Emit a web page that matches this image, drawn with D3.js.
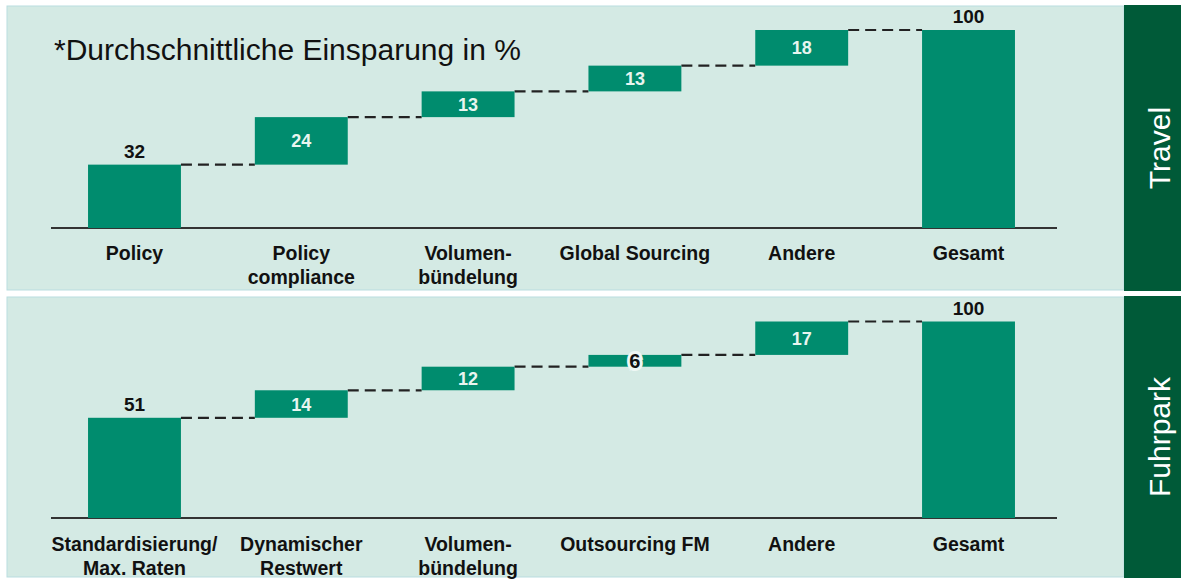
<!DOCTYPE html>
<html>
<head>
<meta charset="utf-8">
<script src="https://cdn.jsdelivr.net/npm/d3@7"></script>
<style>
  body { margin: 0; background: #fff; }
  text { font-family: "Liberation Sans", Arial, sans-serif; }
</style>
</head>
<body>
<div id="chart"></div>
<script>
// data
var titleText = "*Durchschnittliche Einsparung in %";

var travelLabels = [["Policy"], ["Policy", "compliance"], ["Volumen-", "bündelung"],
  ["Global Sourcing"], ["Andere"], ["Gesamt"]];
var travelValues = [32, 24, 13, 13, 18, 100];

var fuhrparkLabels = [["Standardisierung/", "Max. Raten"], ["Dynamischer", "Restwert"],
  ["Volumen-", "bündelung"], ["Outsourcing FM"], ["Andere"], ["Gesamt"]];
var fuhrparkValues = [51, 14, 12, 6, 17, 100];

var panelNames = ["Travel", "Fuhrpark"];

var width = 1181, height = 579;
var barColor = "#008c6e", bgColor = "#d4eae4", stripColor = "#005a38";

var svg = d3.select("#chart")
  .append("svg")
    .attr("width", width)
    .attr("height", height);

// panel geometry
var panels = [
  {name: panelNames[0], labels: travelLabels, values: travelValues,
   top: 6, bottom: 290, base: 228, full: 30, catY: 260},
  {name: panelNames[1], labels: fuhrparkLabels, values: fuhrparkValues,
   top: 297, bottom: 577, base: 518, full: 321.5, catY: 551}
];

panels.forEach(function(p) {
  // background
  svg.append("rect")
    .attr("x", 7).attr("y", p.top)
    .attr("width", 1117).attr("height", p.bottom - p.top)
    .attr("fill", bgColor)
    .attr("stroke", "#b9dde0").attr("stroke-width", 1);

  // side strip
  svg.append("rect")
    .attr("x", 1124).attr("y", p.top - 1)
    .attr("width", width - 1124).attr("height", p.bottom - p.top + 2)
    .attr("fill", stripColor);

  svg.append("text")
    .attr("transform", "translate(1170," + ((p.top + p.bottom) / 2) + ") rotate(-90)")
    .attr("text-anchor", "middle")
    .attr("fill", "#fff")
    .style("font-size", "30px")
    .text(p.name);

  var x = d3.scaleBand()
    .domain(d3.range(p.values.length))
    .range([51, 1052])
    .paddingInner(0.443)
    .paddingOuter(0.222);

  var y = d3.scaleLinear()
    .domain([0, 100])
    .range([p.base, p.full]);

  // waterfall: start/end of every bar
  var cum = 0;
  var bars = p.values.map(function(v, i) {
    var last = i === p.values.length - 1;
    var b = last ? {i: i, v: v, y0: 0, y1: v} : {i: i, v: v, y0: cum, y1: cum + v};
    if (!last) cum += v;
    return b;
  });

  // axis line
  svg.append("line")
    .attr("x1", 51).attr("x2", 1057)
    .attr("y1", p.base).attr("y2", p.base)
    .attr("stroke", "#333").attr("stroke-width", 2);

  // connectors
  svg.append("g")
    .selectAll("line")
    .data(bars.slice(0, bars.length - 1))
    .enter()
    .append("line")
      .attr("x1", function(d) { return x(d.i) + x.bandwidth(); })
      .attr("x2", function(d) { return x(d.i + 1); })
      .attr("y1", function(d) { return y(d.y1); })
      .attr("y2", function(d) { return y(d.y1); })
      .attr("stroke", "#222")
      .attr("stroke-width", 2.2)
      .attr("stroke-dasharray", "11,6");

  svg.append("g")
    .selectAll("rect")
    .data(bars)
    .enter()
    .append("rect")
      .attr("x", function(d) { return x(d.i); })
      .attr("y", function(d) { return y(d.y1); })
      .attr("width", x.bandwidth())
      .attr("height", function(d) { return y(d.y0) - y(d.y1); })
      .attr("fill", barColor);

  // value labels
  bars.forEach(function(d) {
    var cx = x(d.i) + x.bandwidth() / 2;
    var t = svg.append("text")
      .attr("x", cx)
      .attr("text-anchor", "middle")
      .style("font-weight", "bold");
    if (d.y0 === 0) {
      t.attr("y", y(d.y1) - 7).attr("fill", "#111").style("font-size", "19px");
    } else if (d.v < 8) {
      t.attr("y", (y(d.y0) + y(d.y1)) / 2 + 7).attr("fill", "#111")
        .style("font-size", "20px")
        .attr("stroke", "#eef7f4").attr("stroke-width", 6)
        .style("paint-order", "stroke");
    } else {
      t.attr("y", (y(d.y0) + y(d.y1)) / 2 + 6.5).attr("fill", "#e8f5ef").style("font-size", "18px");
    }
    t.text(d.v);
  });

  // category labels
  p.labels.forEach(function(lines, i) {
    var cx = x(i) + x.bandwidth() / 2;
    var t = svg.append("text")
      .attr("text-anchor", "middle")
      .attr("fill", "#111")
      .style("font-weight", "bold")
      .style("font-size", "19.5px");
    lines.forEach(function(s, k) {
      t.append("tspan").attr("x", cx).attr("y", p.catY + k * 24).text(s);
    });
  });
});

svg.append("text")
  .attr("x", 54).attr("y", 60)
  .attr("fill", "#111")
  .style("font-size", "30px")
  .text(titleText);
</script>
</body>
</html>
